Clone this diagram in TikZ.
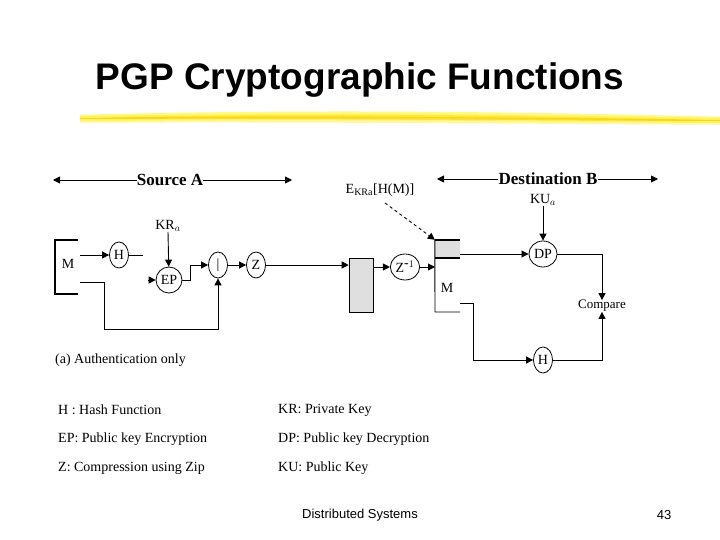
\documentclass[tikz,border=0pt]{standalone}
\usepackage{fontspec}
\setmainfont{Liberation Serif}
\newfontfamily\sansf{Liberation Sans}
\usetikzlibrary{shapes.geometric,arrows.meta}
\begin{document}
\begin{tikzpicture}[x=1pt,y=-1pt,
  ln/.style={line width=0.9pt},
  ar/.style={ln,-{Triangle[length=7pt,width=7pt]}},
  el/.style={ellipse,draw,line width=0.8pt,inner sep=1pt,minimum width=19pt,minimum height=26pt,font=\fontsize{14}{14}\selectfont},
  lbl/.style={font=\fontsize{14}{14}\selectfont,inner sep=0pt},
  leg/.style={font=\fontsize{14}{16}\selectfont,anchor=west,inner sep=0pt}]
\useasboundingbox (0,0) rectangle (720,540);
\node[font=\sansf\bfseries\fontsize{37}{40}\selectfont] (title) at (360,80) {PGP Cryptographic Functions};
% brush
\foreach \o/\c in {0/yellow!85!orange,3/yellow!70!orange,-3/yellow!60!white,6/yellow!50!white}
  \draw[line width=3.5pt,\c,opacity=0.8] (80,118+\o/2) .. controls (300,114+\o) and (500,116+\o) .. (720,120+\o/2);
% headers
\node[lbl,font=\bfseries\fontsize{17}{17}\selectfont] (srcA) at (170,180) {Source A};
\coordinate (sa1) at (53,180); \coordinate (sa2) at (292,180);
\draw[ar] (srcA.west) -- (sa1); \draw[ar] (srcA.east) -- (sa2);
\node[lbl,font=\bfseries\fontsize{17}{17}\selectfont] (dstB) at (548,179) {Destination B};
\coordinate (db1) at (437,179); \coordinate (db2) at (658,179);
\draw[ar] (dstB.west) -- (db1); \draw[ar] (dstB.east) -- (db2);
% source M bracket
\draw[line width=2pt] (78,240) -- (55,240) -- (55,294) -- (78,294);
\node[lbl] (M1) at (68,264) {M};
\coordinate (mo1) at (80,255); \coordinate (mo2) at (80,282);
\node[el] (H1) at (119,255) {H};
\draw[ar] (mo1) -- (H1);
\coordinate (ho) at (143,255); \draw[ln] (H1) -- (ho);
\node[lbl] (KR) at (168,226) {KR$_a$};
\node[el] (EP) at (169,280) {EP};
\draw[ar] (KR.south) -- (EP);
\coordinate (epi) at (148,280); \draw[ar] (epi) -- (EP);
\node[el] (cat) at (218,265) {|};
\draw[ar] (EP.east) -- (190,280) -- (190,265) -- (cat);
\coordinate (lp1) at (104,282); \coordinate (lp2) at (104,329);
\draw[ar] (mo2) -- (lp1) -- (lp2) -| (cat.south);
\node[el] (Z) at (256,265) {Z};
\draw[ar] (cat) -- (Z);
\node[draw,fill=gray!25,line width=0.6pt,minimum width=24pt,minimum height=54pt,inner sep=0pt] (box) at (361,285) {};
\draw[ar] (Z) -- (box.west|-Z);
\node[el] (Zi) at (405,267) {Z$^{\mbox{-}1}$};
\draw[ar] (box.east|-Zi) -- (Zi);
% destination block
\node[fill=gray!25,minimum width=25pt,minimum height=18pt,inner sep=0pt] (sig) at (447.5,249) {};
\draw[line width=2pt] (sig.north west) -- (sig.north east) (sig.south west) -- (sig.south east);
\draw[ln] (sig.north west) -- (435,312) -- (460,312);
\coordinate (zin) at (435,267);
\draw[ar] (Zi) -- (zin);
\node[lbl] (M2) at (447,288) {M};
\node[lbl] (E) at (380,190) {E$_{\mbox{\fontsize{10}{10}\selectfont KRa}}$[H(M)]};
\draw[ln,dashed,-{Triangle[length=7pt,width=7pt]}] (385,203) -- (sig.north west);
\node[el] (DP) at (543,254) {DP};
\node[lbl] (KU) at (543,200) {KU$_a$};
\draw[ar] (KU.south) -- (DP);
\draw[ar] (sig.east|-DP) -- (DP);
\node[lbl,font=\fontsize{13}{13}\selectfont] (cmp) at (602,306) {Compare};
\draw[ar] (DP) -| (cmp.north);
\node[el] (H2) at (543,360) {H};
\coordinate (mb1) at (460,303); \coordinate (mb2) at (473,303);
\draw[ar] (mb1) -- (mb2) |- (H2);
\draw[ar] (H2) -| (cmp.south);
\node[lbl,anchor=west] (cap) at (55,360) {(a) Authentication only};
% legend
\node[leg] (l1) at (58,410) {H : Hash Function};
\node[leg] (l2) at (58,439) {EP: Public key Encryption};
\node[leg] (l3) at (58,468) {Z: Compression using Zip};
\node[leg] (r1) at (278,410) {KR: Private Key};
\node[leg] (r2) at (278,439) {DP: Public key Decryption};
\node[leg] (r3) at (278,468) {KU: Public Key};
\node[font=\sansf\fontsize{13}{13}\selectfont] (foot) at (360,515) {Distributed Systems};
\node[font=\sansf\fontsize{13}{13}\selectfont] (pg) at (664,515) {43};
\end{tikzpicture}
\end{document}
